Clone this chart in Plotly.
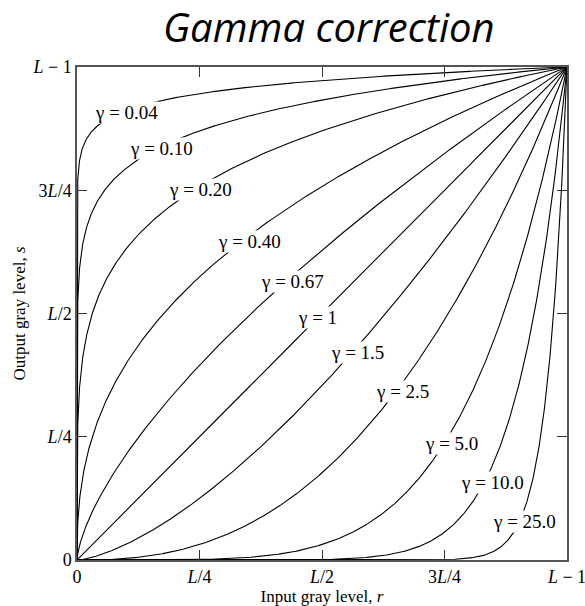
import numpy as np
import plotly.graph_objects as go

# Gamma values of the power-law transformations s = r ** gamma
gammas = [0.04, 0.10, 0.20, 0.40, 0.67, 1, 1.5, 2.5, 5.0, 10.0, 25.0]
gamma_labels = ["0.04", "0.10", "0.20", "0.40", "0.67", "1", "1.5", "2.5", "5.0", "10.0", "25.0"]

# Where each curve's label sits (normalized input r, output s)
label_r = [0.100, 0.173, 0.253, 0.352, 0.440, 0.491, 0.572, 0.664, 0.764, 0.847, 0.914]
label_s = [0.907, 0.834, 0.751, 0.647, 0.564, 0.491, 0.420, 0.341, 0.237, 0.158, 0.079]

tick_vals = [0, 0.25, 0.5, 0.75, 1]
tick_text = ["0", "<i>L</i>/4", "<i>L</i>/2", "3<i>L</i>/4", "<i>L</i> \u2212 1"]

serif = "Liberation Serif, Times New Roman, serif"

# dense sampling near r = 0 so small gammas rise along the left edge
r = np.unique(np.concatenate([np.logspace(-12, -1, 400), np.linspace(0, 1, 800)]))

fig = go.Figure()
for g in gammas:
    fig.add_trace(go.Scatter(
        x=r, y=r ** g, mode="lines",
        line=dict(color="black", width=1.1),
        hoverinfo="skip", showlegend=False,
    ))

for lbl, lx, ly in zip(gamma_labels, label_r, label_s):
    fig.add_annotation(
        x=lx, y=ly, xref="x", yref="y",
        text="\u03b3 = " + lbl, showarrow=False,
        font=dict(family=serif, size=19, color="black"),
        bgcolor="white", borderpad=0,
    )

axis_common = dict(
    range=[0, 1], tickvals=tick_vals, ticktext=tick_text,
    ticks="inside", ticklen=10, tickwidth=1.3, tickcolor="#333",
    showline=True, linecolor="#555", linewidth=1.5, mirror="ticks",
    showgrid=False, zeroline=False, automargin=False,
    ticklabeloverflow="allow",
    tickfont=dict(family=serif, size=18, color="black"),
)

fig.update_layout(
    width=585, height=606,
    margin=dict(l=77, r=18, t=67, b=46),
    paper_bgcolor="white", plot_bgcolor="white",
    title=dict(
        text="<i>Gamma correction</i>",
        font=dict(family="Open Sans", size=40, color="black"),
        x=0.562, xanchor="center", y=0.953, yanchor="middle",
    ),
    xaxis=dict(**axis_common,
               title=dict(text="Input gray level, <i>r</i>",
                          font=dict(family=serif, size=17, color="black"),
                          standoff=8)),
    yaxis=dict(**axis_common,
               title=dict(text="Output gray level, <i>s</i>",
                          font=dict(family=serif, size=17, color="black"),
                          standoff=3)),
)

fig.write_html("out.html")
